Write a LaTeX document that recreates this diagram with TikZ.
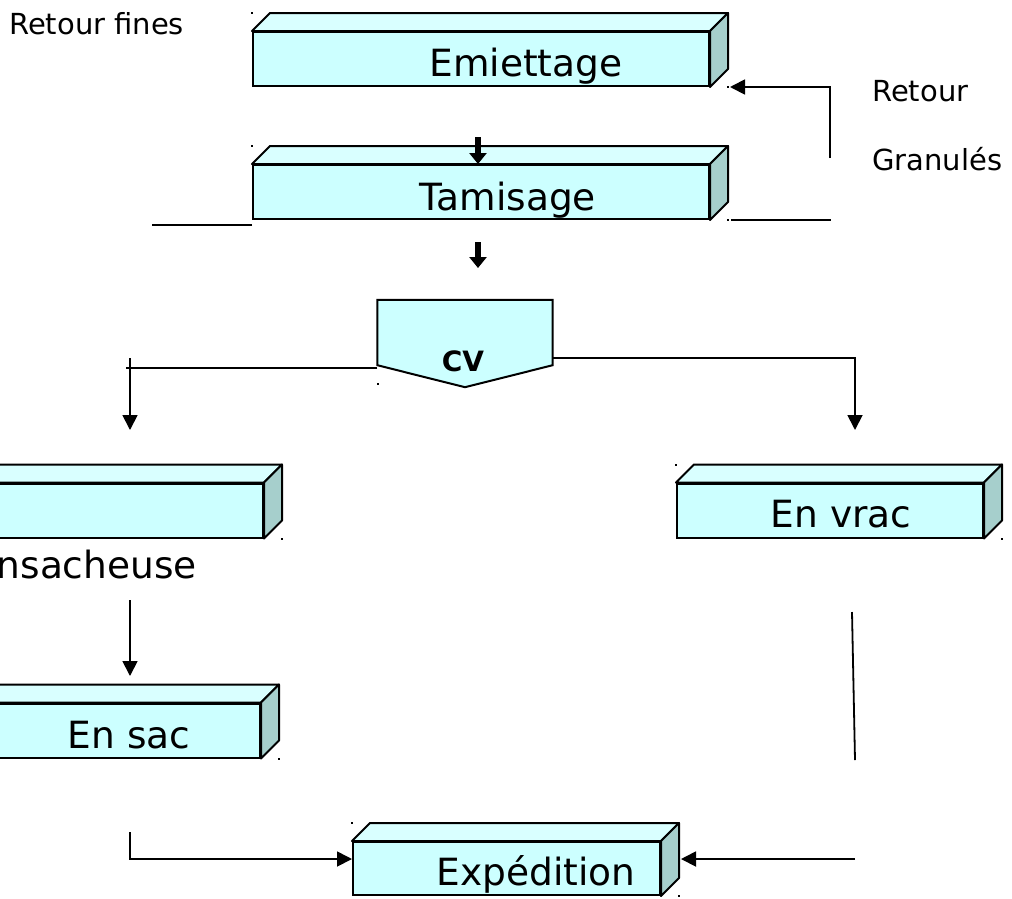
\documentclass[tikz,border=0pt]{standalone}
\usepackage{fontspec}
\setmainfont{DejaVu Sans}
\usetikzlibrary{arrows.meta,calc}

\definecolor{face}{HTML}{CCFFFF}
\definecolor{dessus}{HTML}{D9FFFF}
\definecolor{cote}{HTML}{A6CFCC}

\tikzstyle{bloc} = [rectangle, draw, line width=2pt, fill=face, inner sep=0pt, minimum height=54pt]
\tikzstyle{titre} = [inner sep=0pt, anchor=base, font=\fontsize{37.5}{40}\selectfont]
\tikzstyle{note} = [inner sep=0pt, anchor=base west, font=\fontsize{29}{32}\selectfont]
\tikzstyle{arrow} = [line width=1.8pt, -{Triangle[length=15pt,width=15pt]}]
\tikzstyle{grosse} = [line width=6pt, -{Triangle[length=11pt,width=17pt]}]
\tikzstyle{trait} = [line width=1.8pt]

\begin{document}
\begin{tikzpicture}[x=1pt, y=-1pt]
    \clip (0,0) rectangle (1012,898);
    \fill[white] (0,0) rectangle (1012,898);

    % blocs
    \node (emiet) [bloc, minimum width=456pt] at (481,59) {};
    \node (tamis) [bloc, minimum width=456pt] at (481,192) {};
    \node (ensac) [bloc, minimum width=308pt] at (109,510.5) {};
    \node (vrac) [bloc, minimum width=306pt] at (830,510.5) {};
    \node (sac) [bloc, minimum width=306pt] at (107,730.5) {};
    \node (exped) [bloc, minimum width=307pt, minimum height=53pt] at (506.5,868.5) {};

    % faces du dessus et de cote
    \foreach \n in {emiet,tamis,ensac,vrac,sac,exped} {
        \filldraw [line width=2pt, line join=round, fill=dessus] (\n.north west) -- ++(18,-18)
            -- ($(\n.north east)+(18,-18)$) -- (\n.north east) -- cycle;
        \filldraw [line width=2pt, line join=round, fill=cote] (\n.north east) -- ++(18,-18)
            -- ($(\n.south east)+(18,-18)$) -- (\n.south east) -- cycle;
        \fill ($(\n.north west)+(-1,-19)$) rectangle ++(2,2);
        \fill ($(\n.south east)+(17,-1)$) rectangle ++(2,2);
    }

    % CV
    \node (cv) [minimum width=175pt, minimum height=65pt, inner sep=0pt] at (465,332.5) {};
    \filldraw [line width=2pt, fill=face] (cv.north west) -- (cv.north east) -- (cv.south east)
        -- ($(cv.south)+(0,22)$) -- (cv.south west) -- cycle;
    \fill (377,383) rectangle ++(2,2);

    % textes
    \node (t1) [titre] at (526,76) {Emiettage};
    \node (t2) [titre] at (508,210) {Tamisage};
    \node (t3) [titre, anchor=base east] at (197,578) {Ensacheuse};
    \node (t4) [titre] at (841,527) {En vrac};
    \node (t5) [titre] at (129,748) {En sac};
    \node (t6) [titre] at (536,885) {Expédition};
    \node (t7) [note, font=\fontsize{28}{32}\selectfont\bfseries, anchor=base] at (463,371) {CV};
    \node (n1) [note] at (9,34) {Retour fines};
    \node (n2) [note] at (872,101) {Retour};
    \node (n3) [note] at (872,170) {Granulés};

    % liaisons
    \coordinate (a1) at (478,137);
    \coordinate (a2) at (478,242);
    \coordinate (a3) at (478,268);
    \coordinate (g1) at (130,358);
    \coordinate (g2) at (130,430);
    \coordinate (d1) at (855,430);
    \coordinate (s1) at (130,600);
    \coordinate (s2) at (130,676);
    \coordinate (v1) at (852,612);
    \coordinate (v2) at (855,760);
    \coordinate (e1) at (130,832);
    \coordinate (e2) at (855,859);
    \coordinate (r1) at (830,158);

    \draw [grosse] (a1) -- (a1 |- tamis.north);
    \draw [grosse] (a2) -- (a3);
    \draw [trait] ([yshift=-5pt]tamis.south west) -- ++(-100,0);
    \draw [trait] ([xshift=21pt]tamis.south east) -- ++(100,0);
    \draw [arrow] (r1) |- ([xshift=20pt]emiet.south east);
    \draw [trait] ([yshift=-3pt]cv.south west) -- ++(-251,0);
    \draw [arrow] (g1) -- (g2);
    \draw [arrow] ([yshift=7pt]cv.south east) -| (d1);
    \draw [arrow] (s1) -- (s2);
    \draw [trait] (v1) -- (v2);
    \draw [arrow] (e1) |- ([yshift=9.5pt]exped.west);
    \draw [arrow] (e2) -- ([xshift=20pt]e2 -| exped.east);
\end{tikzpicture}
\end{document}
